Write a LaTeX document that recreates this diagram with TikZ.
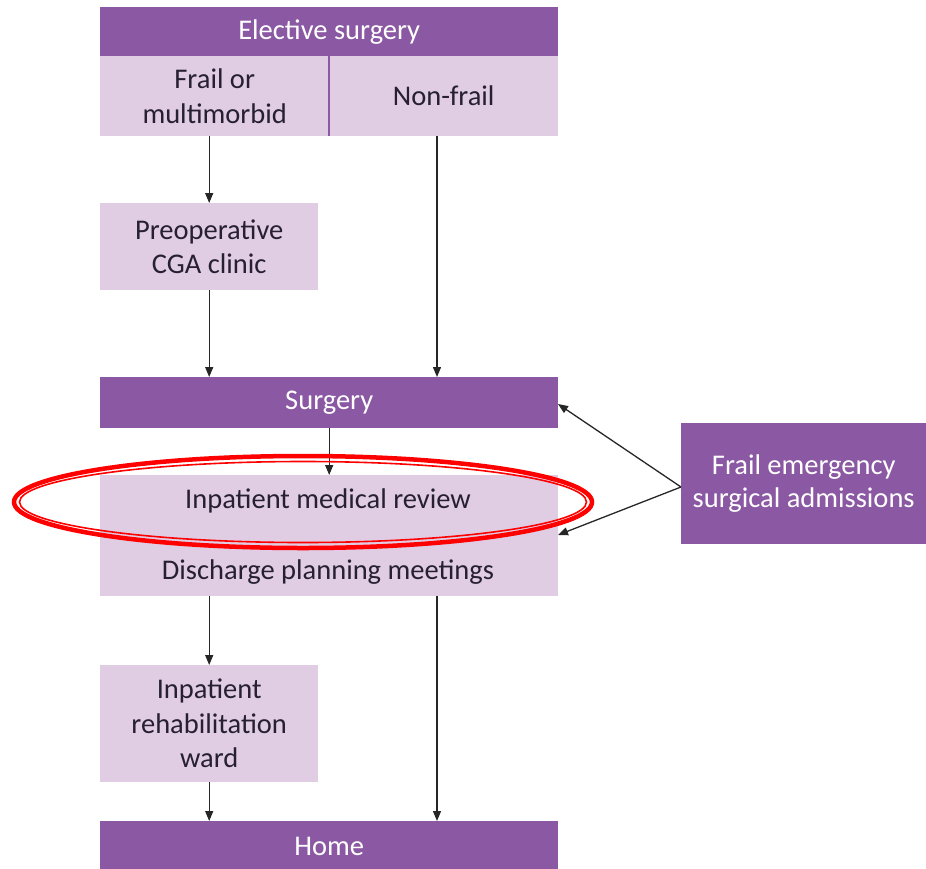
\documentclass[tikz,border=0pt]{standalone}
\usepackage{fontspec}
\setmainfont{Carlito}
\usetikzlibrary{arrows.meta}
\definecolor{darkp}{HTML}{8B58A3}
\definecolor{lightp}{HTML}{E0CCE3}
\definecolor{txt}{HTML}{262030}
\begin{document}
\begin{tikzpicture}[x=1pt,y=-1pt,
  dbox/.style={fill=darkp,draw=none,text=white,inner sep=0pt,anchor=north west,align=center,font=\fontsize{28.5}{34}\selectfont},
  lbox/.style={fill=lightp,draw=none,text=txt,inner sep=0pt,anchor=north west,align=center,font=\fontsize{28.5}{34.5}\selectfont},
  arr/.style={-{Triangle[length=10pt,width=8pt]},line width=1.3pt,draw=black!85}]
\useasboundingbox (0,0) rectangle (926,868);
% boxes
\node[dbox,minimum width=458pt,minimum height=49pt] (elect) at (100,7) {Elective surgery};
\node[lbox,minimum width=229pt,minimum height=80pt] (frail) at (100,56) {Frail or\\multimorbid};
\node[lbox,minimum width=229pt,minimum height=80pt] (nonfrail) at (329,56) {Non-frail};
\draw[darkp,line width=1.2pt] (nonfrail.north west) -- (nonfrail.south west);
\node[lbox,minimum width=218pt,minimum height=87pt] (cga) at (100,203) {Preoperative\\CGA clinic};
\node[dbox,minimum width=458pt,minimum height=51pt] (surg) at (100,377) {Surgery};
\node[lbox,minimum width=458pt,minimum height=121pt] (inpat) at (100,475) {};
\node[text=txt,font=\fontsize{28.5}{34}\selectfont] (imr) at (328,501) {Inpatient medical review};
\node[text=txt,font=\fontsize{28.5}{34}\selectfont] (dpm) at (328,572) {Discharge planning meetings};
\node[lbox,minimum width=218pt,minimum height=117pt] (rehab) at (100,665) {Inpatient\\rehabilitation\\ward};
\node[dbox,minimum width=458pt,minimum height=50pt] (home) at (100,821) {Home};
\node[dbox,minimum width=245pt,minimum height=121pt,font=\fontsize{28.5}{33}\selectfont] (emerg) at (681,423) {Frail emergency\\surgical admissions};
% arrows
\draw[arr] (frail.south -| cga.south) -- (cga.north);
\draw[arr] (cga.south) -- (cga.south |- surg.north);
\draw[arr] (437,136) -- (437,377);
\draw[arr] (surg.south) -- (surg.south |- inpat.north);
\draw[arr] (rehab.north |- inpat.south) -- (rehab.north);
\draw[arr] (rehab.south) -- (rehab.south |- home.north);
\draw[arr] (437,596) -- (437,821);
\coordinate (ej) at (681,487);
\draw[arr] (ej) -- (558,404);
\draw[arr] (ej) -- (558,535);
% red highlight ellipse
\draw[red,line width=4.5pt] (303,502) ellipse [x radius=289pt,y radius=46pt];
\draw[red,line width=1.6pt] (303,502) ellipse [x radius=283.5pt,y radius=40.5pt];
\end{tikzpicture}
\end{document}
